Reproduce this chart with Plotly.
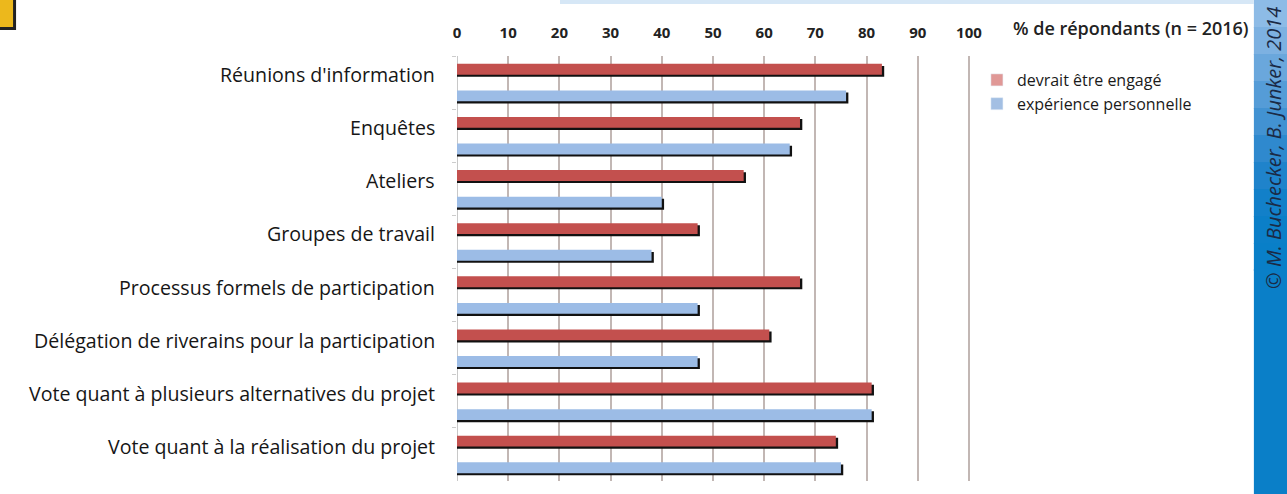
import plotly.graph_objects as go

# données
categories = [
    "Réunions d'information",
    "Enquêtes",
    "Ateliers",
    "Groupes de travail",
    "Processus formels de participation",
    "Délégation de riverains pour la participation",
    "Vote quant à plusieurs alternatives du projet",
    "Vote quant à la réalisation du projet",
]
devrait_etre_engage = [83, 67, 56, 47, 67, 61, 81, 74]
experience_personnelle = [76, 65, 40, 38, 47, 47, 81, 75]
x_ticks = [0, 10, 20, 30, 40, 50, 60, 70, 80, 90, 100]

W, H = 1287, 494
x_max = 100.6
L, T, B = 457, 56, 481  # zone du graphique en pixels
R = L + 5.12 * x_max


def px_x(p):
    return (p - L) / (R - L)


def px_y(p):
    return (B - p) / (B - T)


bar_w = 0.205
shadow_dx = 0.45
shadow_dy = 0.04

fig = go.Figure()

# ombres noires derrière les barres
for vals, off in [(devrait_etre_engage, -0.25), (experience_personnelle, 0.25)]:
    fig.add_trace(go.Bar(
        y=categories, x=[v + shadow_dx for v in vals], orientation='h',
        width=bar_w, offset=off - bar_w / 2 + shadow_dy,
        marker=dict(color='#111111', line=dict(width=0)),
        showlegend=False, hoverinfo='skip'
    ))

fig.add_trace(go.Bar(
    y=categories, x=devrait_etre_engage, orientation='h',
    width=bar_w, offset=-0.25 - bar_w / 2,
    marker=dict(color='#c3504e', line=dict(width=0)),
    name='devrait être engagé', showlegend=False
))
fig.add_trace(go.Bar(
    y=categories, x=experience_personnelle, orientation='h',
    width=bar_w, offset=0.25 - bar_w / 2,
    marker=dict(color='#9cbce6', line=dict(width=0)),
    name='expérience personnelle', showlegend=False
))

# entrées de légende (couleurs pâles comme sur l'original)
fig.add_trace(go.Bar(y=[None], x=[None], orientation='h', name='devrait être engagé',
                     marker_color='#e09896'))
fig.add_trace(go.Bar(y=[None], x=[None], orientation='h', name='expérience personnelle',
                     marker_color='#a3bfe3'))

shapes = []
# bande bleue à droite, dégradé
strip_cols = ['#8dbbe6', '#7db1e1', '#6aa7dc', '#559cd7', '#4292d2', '#2f89ce', '#1f83cb',
              '#1280c9', '#0b7fc8', '#097fc8']
seg = 270 / len(strip_cols)
for i, c in enumerate(strip_cols):
    shapes.append(dict(type='rect', xref='paper', yref='paper', layer='below',
                       x0=px_x(1254), x1=px_x(1290), y0=px_y(i * seg), y1=px_y((i + 1) * seg + 1),
                       fillcolor=c, line=dict(width=0)))
shapes.append(dict(type='rect', xref='paper', yref='paper', layer='below',
                   x0=px_x(1254), x1=px_x(1290), y0=px_y(269), y1=px_y(500),
                   fillcolor='#0a7fc8', line=dict(width=0)))
# fine bande bleue en haut
shapes.append(dict(type='rect', xref='paper', yref='paper', layer='below',
                   x0=px_x(560), x1=px_x(1254), y0=px_y(4), y1=px_y(-2),
                   fillcolor='#d6e7f6', line=dict(width=0)))
# carré jaune en haut à gauche
shapes.append(dict(type='rect', xref='paper', yref='paper',
                   x0=px_x(-3), x1=px_x(16), y0=px_y(30), y1=px_y(-3),
                   fillcolor='#222222', line=dict(width=0)))
shapes.append(dict(type='rect', xref='paper', yref='paper',
                   x0=px_x(-3), x1=px_x(13), y0=px_y(27), y1=px_y(-3),
                   fillcolor='#ecb81c', line=dict(width=0)))

annotations = [
    dict(text='% de répondants (n = 2016)', xref='paper', yref='paper',
         x=px_x(1011), y=px_y(28), xanchor='left', yanchor='middle', showarrow=False,
         font=dict(family='Open Sans', size=18, color='#222222', weight=600)),
    dict(text='© M. Buchecker, B. Junker, 2014', xref='paper', yref='paper',
         x=px_x(1273), y=px_y(148), xanchor='center', yanchor='middle', showarrow=False,
         textangle=-90,
         font=dict(family='Open Sans', size=20, color='#1b2a45', style='italic')),
]
# libellés des catégories (un peu au-dessus du centre de chaque groupe)
for cat in categories:
    annotations.append(dict(text=cat, xref='paper', yref='y', x=px_x(437), y=cat,
                            xanchor='right', yanchor='middle', yshift=8, showarrow=False,
                            font=dict(family='Open Sans', size=19.6, color='#161616')))

fig.update_layout(
    width=W, height=H,
    margin=dict(l=L, r=W - R, t=T, b=H - B, pad=0),
    barmode='overlay',
    plot_bgcolor='white', paper_bgcolor='white',
    font=dict(family='Open Sans', color='#1a1a1a'),
    shapes=shapes, annotations=annotations,
    legend=dict(x=px_x(977), y=px_y(63), xanchor='left', yanchor='top',
                font=dict(family='Open Sans', size=16, color='#1a1a1a'),
                traceorder='normal', itemwidth=30, tracegroupgap=0,
                bgcolor='rgba(0,0,0,0)'),
)

fig.update_xaxes(
    side='top', range=[0, x_max], tickvals=x_ticks,
    showgrid=True, gridcolor='#c2b7b4', gridwidth=1.5,
    zeroline=True, zerolinecolor='#c8c8c8', zerolinewidth=1,
    ticks='', ticklabelstandoff=14,
    tickfont=dict(family='Open Sans', size=15, color='#222222', weight='bold'),
    fixedrange=True,
)
fig.update_yaxes(
    type='category', categoryorder='array', categoryarray=categories,
    autorange='reversed', showticklabels=False,
    ticks='outside', ticklen=4, tickcolor='#cccccc', tickson='boundaries',
    showgrid=False, fixedrange=True,
)

# pas de marge de page autour du graphique
fig.write_html("out.html", config={'displayModeBar': False},
               post_script="document.body.style.margin='0';document.body.style.overflow='hidden';")
